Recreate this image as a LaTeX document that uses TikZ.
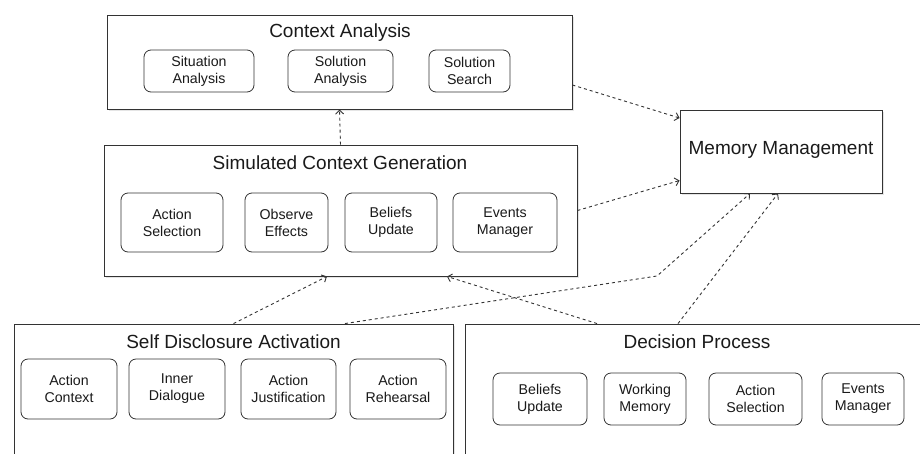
\documentclass[tikz,border=0pt]{standalone}
\usepackage{fontspec}
\setmainfont{Liberation Sans}
\usetikzlibrary{arrows.meta,shadows,calc}
\definecolor{linegray}{HTML}{333333}
\definecolor{textgray}{HTML}{1A1A1A}
\tikzset{
  container/.style={draw=linegray, line width=0.9pt, fill=white, inner sep=0pt,
    drop shadow={shadow xshift=2pt, shadow yshift=-2pt, opacity=0.2}},
  subbox/.style={draw=linegray, line width=0.8pt, rounded corners=7pt, fill=white,
    inner sep=0pt, align=center, text=textgray, font=\fontsize{14.2}{17}\selectfont},
  titletext/.style={text=textgray, inner sep=0pt, font=\fontsize{19}{23}\selectfont},
  arr/.style={draw=linegray, line width=0.9pt, dash pattern=on 3pt off 3pt,
    -{Straight Barb[length=4pt,width=8pt]}},
}
\begin{document}
\begin{tikzpicture}[x=1pt,y=-1pt]
\useasboundingbox (0,0) rectangle (920,453);
\clip (0,0) rectangle (920,453);
\fill[white] (0,0) rectangle (920,453);

% Context Analysis
\node[container, minimum width=465pt, minimum height=94pt] (ca) at (339.5,62) {};
\node[titletext] (catitle) at (340,33) {Context Analysis};
\node[subbox, minimum width=110pt, minimum height=42pt] (ca1) at (199,71) {Situation\\Analysis};
\node[subbox, minimum width=105pt, minimum height=42pt] (ca2) at (340.5,71) {Solution\\Analysis};
\node[subbox, minimum width=81pt, minimum height=42pt] (ca3) at (469.5,71) {Solution\\Search};

% Simulated Context Generation
\node[container, minimum width=473pt, minimum height=131pt] (scg) at (340.5,210.5) {};
\node[titletext] (scgtitle) at (340,163) {Simulated Context Generation};
\node[subbox, minimum width=102pt, minimum height=59pt] (scg1) at (172,222.5) {Action\\Selection};
\node[subbox, minimum width=83pt, minimum height=59pt] (scg2) at (286.5,222.5) {Observe\\Effects};
\node[subbox, minimum width=92pt, minimum height=59pt] (scg3) at (391,222.5) {Beliefs\\Update};
\node[subbox, minimum width=104pt, minimum height=59pt] (scg4) at (505,222.5) {Events\\Manager};

% Memory Management
\node[container, minimum width=202pt, minimum height=83pt] (mm) at (781,151.5) {};
\node[titletext] (mmtitle) at (781,150) {Memory Management};

% Self Disclosure Activation
\node[container, minimum width=439pt, minimum height=146pt] (sda) at (233.5,397) {};
\node[titletext] (sdatitle) at (233.5,342) {Self Disclosure Activation};
\node[subbox, minimum width=96pt, minimum height=60pt] (sda1) at (69,389) {Action\\Context};
\node[subbox, minimum width=96pt, minimum height=60pt] (sda2) at (177,389) {Inner\\Dialogue};
\node[subbox, minimum width=95pt, minimum height=60pt] (sda3) at (288.5,389) {Action\\Justification};
\node[subbox, minimum width=96pt, minimum height=60pt] (sda4) at (398,389) {Action\\Rehearsal};

% Decision Process
\node[container, minimum width=464pt, minimum height=146pt] (dp) at (697,397) {};
\node[titletext] (dptitle) at (697,342) {Decision Process};
\node[subbox, minimum width=94pt, minimum height=52pt] (dp1) at (540,399) {Beliefs\\Update};
\node[subbox, minimum width=82pt, minimum height=52pt] (dp2) at (645,399) {Working\\Memory};
\node[subbox, minimum width=93pt, minimum height=52pt] (dp3) at (755.5,399) {Action\\Selection};
\node[subbox, minimum width=82pt, minimum height=52pt] (dp4) at (863,399) {Events\\Manager};

% connectors
\coordinate (bend) at (657,276);
\draw[arr] (scg.north) -- (ca.south);
\draw[arr] ([yshift=-23pt]ca.east) -- ([yshift=33.5pt]mm.west);
\draw[arr] (scg.east) -- ([yshift=-29pt]mm.west);
\draw[arr] (sda.north) -- ([xshift=-13.5pt]scg.south);
\draw[arr] ([xshift=111.5pt]sda.north) -- (bend) -- ([xshift=-31pt]mm.south);
\draw[arr] ([xshift=-100pt]dp.north) -- ([xshift=106.5pt]scg.south);
\draw[arr] ([xshift=-19pt]dp.north) -- ([xshift=-3pt]mm.south);
\end{tikzpicture}
\end{document}
